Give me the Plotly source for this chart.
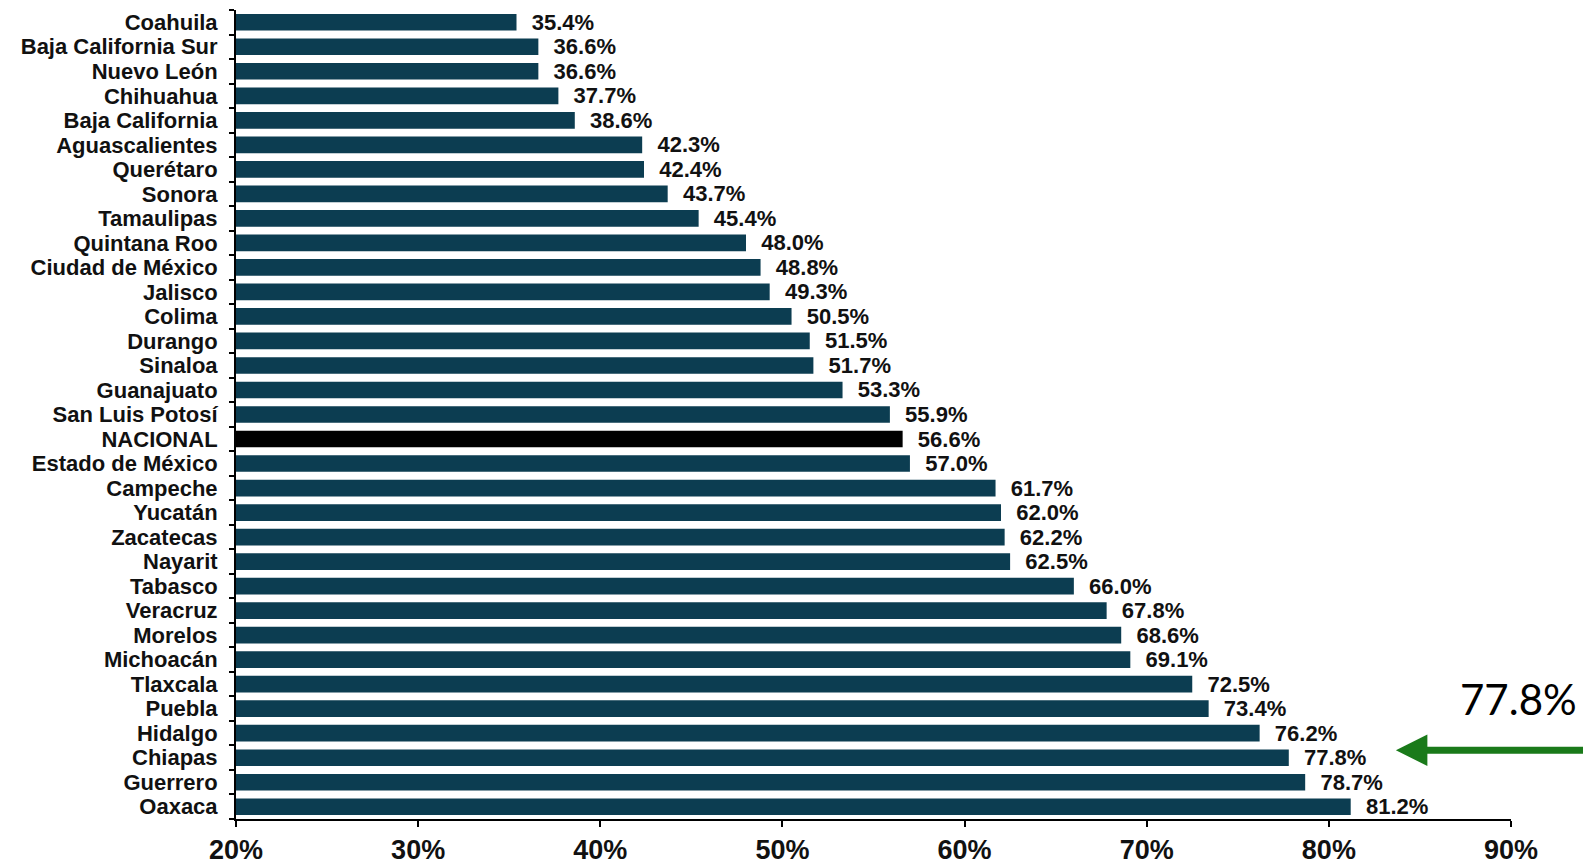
import plotly.graph_objects as go

states = ["Coahuila", "Baja California Sur", "Nuevo León", "Chihuahua", "Baja California",
          "Aguascalientes", "Querétaro", "Sonora", "Tamaulipas", "Quintana Roo",
          "Ciudad de México", "Jalisco", "Colima", "Durango", "Sinaloa", "Guanajuato",
          "San Luis Potosí", "NACIONAL", "Estado de México", "Campeche", "Yucatán",
          "Zacatecas", "Nayarit", "Tabasco", "Veracruz", "Morelos", "Michoacán",
          "Tlaxcala", "Puebla", "Hidalgo", "Chiapas", "Guerrero", "Oaxaca"]
values = [35.4, 36.6, 36.6, 37.7, 38.6, 42.3, 42.4, 43.7, 45.4, 48.0,
          48.8, 49.3, 50.5, 51.5, 51.7, 53.3, 55.9, 56.6, 57.0, 61.7,
          62.0, 62.2, 62.5, 66.0, 67.8, 68.6, 69.1, 72.5, 73.4, 76.2,
          77.8, 78.7, 81.2]
x_ticks = [20, 30, 40, 50, 60, 70, 80, 90]
x_tick_labels = ["20%", "30%", "40%", "50%", "60%", "70%", "80%", "90%"]
axis_start = 20
highlight_label = "77.8%"

bar_colors = ["#000000" if s == "NACIONAL" else "#0c3d51" for s in states]

fig = go.Figure(go.Bar(
    x=[v - axis_start for v in values], y=states, orientation="h",
    base=axis_start,
    marker=dict(color=bar_colors, line=dict(width=0)),
    width=0.68,
    text=[f"  {v:.1f}%" for v in values],
    textposition="outside",
    constraintext="none",
    textfont=dict(family="Liberation Sans", size=22, color="#111111", weight="bold"),
    cliponaxis=False,
))

# page body has an 8px margin, so the figure is sized to fill the rest of the window
fig.update_layout(
    width=1583, height=859,
    margin=dict(l=228, r=80, t=2, b=48),
    plot_bgcolor="white", paper_bgcolor="white",
    showlegend=False,
    xaxis=dict(range=[20, 90], tickvals=x_ticks, ticktext=x_tick_labels,
               automargin=False,
               showgrid=False, zeroline=False, showline=True, linecolor="black",
               linewidth=2, ticks="outside", ticklen=6, tickwidth=2, tickcolor="black",
               tickfont=dict(family="Liberation Sans", size=27, color="#111111", weight="bold")),
    yaxis=dict(autorange="reversed", showgrid=False, showline=True, linecolor="black",
               automargin=False,
               linewidth=2, ticks="outside", ticklen=5, tickwidth=2, tickcolor="black",
               tickmode="array", tickvals=states, ticktext=states,
               tickson="boundaries", ticklabelstandoff=12,
               tickfont=dict(family="Liberation Sans", size=22, color="#111111", weight="bold")),
    annotations=[
        dict(text=highlight_label, xref="paper", yref="paper", x=1.0055, y=0.148,
             xanchor="center", yanchor="middle",
             showarrow=False, font=dict(family="Lato", size=42, color="black")),
        dict(text="", xref="paper", yref="paper", x=0.9097, y=0.085,
             axref="pixel", ayref="pixel", ax=215, ay=0,
             showarrow=True, arrowhead=2, arrowsize=0.9, arrowwidth=7,
             arrowcolor="#1a7a1a"),
    ],
)

fig.write_html("out.html")
